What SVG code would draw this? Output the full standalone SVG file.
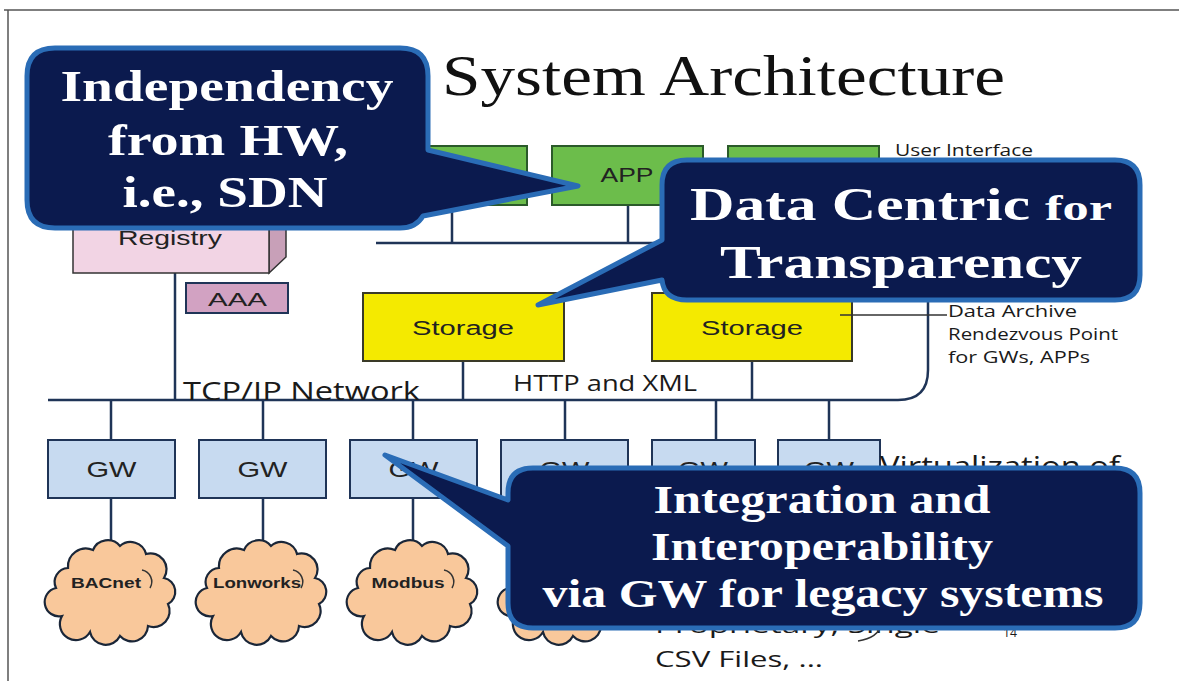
<svg xmlns="http://www.w3.org/2000/svg" width="1179" height="681" viewBox="0 0 1179 681">
<style>
.ln{stroke:#1f3457;stroke-width:2.5;fill:none}
.thin{stroke:#333;stroke-width:1.5;fill:none}
.app{fill:#6cbd4b;stroke:#2b5a2a;stroke-width:2}
.sto{fill:#f4ea00;stroke:#3a3a28;stroke-width:2}
.gw{fill:#c7daf0;stroke:#1f3457;stroke-width:2}
.cl{fill:#f9c89b;stroke:#1a2638;stroke-width:2.2}
.co{fill:#0b1a4e;stroke:#2a6cb6;stroke-width:5;stroke-linejoin:round}
.a{font-family:"Liberation Sans",Arial,sans-serif;fill:#222}
.c{font-family:"Open Sans","Liberation Sans",sans-serif;fill:#1a1a1a}
.cb{font-family:"Liberation Sans",Arial,sans-serif;font-weight:bold;font-size:15px;fill:#222;text-anchor:middle}
.w{font-family:"Liberation Serif","Times New Roman",serif;font-weight:bold;fill:#fff}
</style>
<defs>
<path id="cloud" d="M20,30 A18,18 0 0 1 45,12 A16,16 0 0 1 72,8 A16,16 0 0 1 98,16 A16,16 0 0 1 116,40 A14,14 0 0 1 120,66 A16,16 0 0 1 100,88 A16,16 0 0 1 72,98 A16,16 0 0 1 42,94 A16,16 0 0 1 14,78 A14,14 0 0 1 8,50 A14,14 0 0 1 20,30 Z"/>
</defs>
<rect width="1179" height="681" fill="#fff"/>
<path d="M4,10 H1179 M8,10 V681" stroke="#555" stroke-width="1.5" fill="none"/>
<text id="title" x="442" y="95" font-family="Liberation Serif,'Times New Roman',serif" font-size="56" fill="#111" textLength="563" lengthAdjust="spacingAndGlyphs">System Architecture</text>
<g id="connectors">
<path class="ln" d="M48,400 H898 Q928,400 928,370 V243 H376"/>
<path class="ln" d="M452,205 V243 M628,205 V243 M803,205 V243"/>
<path class="ln" d="M175,273 V400"/>
<path class="ln" d="M463,361 V400 M752,361 V400"/>
<path class="ln" d="M111,400 V440 M263,400 V440 M413,400 V440 M565,400 V440 M716,400 V440 M829,400 V440"/>
<path class="ln" d="M111,498 V546 M263,498 V546 M413,498 V546 M565,498 V546"/>
</g>
<g id="app1"><rect class="app" x="376" y="146" width="151" height="59"/></g>
<g id="app2"><rect class="app" x="552" y="146" width="151" height="59"/><text class="a" x="627" y="182" font-size="20" text-anchor="middle" textLength="53" lengthAdjust="spacingAndGlyphs" fill="#16301a">APP</text></g>
<g id="app3"><rect class="app" x="728" y="146" width="151" height="59"/></g>
<text class="c" x="895" y="156" font-size="16" textLength="138" lengthAdjust="spacingAndGlyphs">User Interface</text>
<g id="registry">
<polygon points="73,195 90,178 286,178 269,195" fill="#e6c0d4" stroke="#333" stroke-width="1.5"/>
<polygon points="269,195 286,178 286,257 269,273" fill="#c8a0b8" stroke="#333" stroke-width="1.5"/>
<rect x="73" y="195" width="196" height="78" fill="#f2d4e4" stroke="#333" stroke-width="1.5"/>
<text class="a" x="170" y="245" font-size="21" text-anchor="middle" textLength="104" lengthAdjust="spacingAndGlyphs" fill="#333">Registry</text>
</g>
<g id="aaa"><rect x="186" y="283" width="102" height="30" fill="#d2a2c2" stroke="#1f3457" stroke-width="2"/><text class="a" x="237.5" y="306" font-size="18" text-anchor="middle" textLength="59" lengthAdjust="spacingAndGlyphs">AAA</text></g>
<g id="storage1"><rect class="sto" x="363" y="293" width="201" height="68"/><text class="a" x="463" y="335" font-size="20" text-anchor="middle" textLength="102" lengthAdjust="spacingAndGlyphs">Storage</text></g>
<g id="storage2"><rect class="sto" x="652" y="293" width="200" height="68"/><text class="a" x="752" y="335" font-size="20" text-anchor="middle" textLength="102" lengthAdjust="spacingAndGlyphs">Storage</text></g>
<path class="thin" d="M840,315 H947"/>
<g id="archive-label" class="c" font-size="16">
<text x="948" y="317" textLength="129" lengthAdjust="spacingAndGlyphs">Data Archive</text>
<text x="948" y="340" textLength="170" lengthAdjust="spacingAndGlyphs">Rendezvous Point</text>
<text x="948" y="363" textLength="142" lengthAdjust="spacingAndGlyphs">for GWs, APPs</text>
</g>
<text class="c" x="513" y="391" font-size="21" textLength="184" lengthAdjust="spacingAndGlyphs">HTTP and XML</text>
<text class="c" x="183" y="400" font-size="25" textLength="237" lengthAdjust="spacingAndGlyphs">TCP/IP Network</text>
<g id="gw1"><rect class="gw" x="48" y="440" width="127" height="58"/><text class="a" x="111.5" y="477" font-size="22" text-anchor="middle" textLength="50" lengthAdjust="spacingAndGlyphs">GW</text></g>
<g id="gw2"><rect class="gw" x="199" y="440" width="127" height="58"/><text class="a" x="262.5" y="477" font-size="22" text-anchor="middle" textLength="50" lengthAdjust="spacingAndGlyphs">GW</text></g>
<g id="gw3"><rect class="gw" x="350" y="440" width="127" height="58"/><text class="a" x="413.5" y="477" font-size="22" text-anchor="middle" textLength="50" lengthAdjust="spacingAndGlyphs">GW</text></g>
<g id="gw4"><rect class="gw" x="501" y="440" width="127" height="58"/><text class="a" x="564.5" y="477" font-size="22" text-anchor="middle" textLength="50" lengthAdjust="spacingAndGlyphs">GW</text></g>
<g id="gw5"><rect class="gw" x="652" y="440" width="103" height="58"/><text class="a" x="703" y="477" font-size="22" text-anchor="middle" textLength="50" lengthAdjust="spacingAndGlyphs">GW</text></g>
<g id="gw6"><rect class="gw" x="778" y="440" width="102" height="58"/><text class="a" x="829" y="477" font-size="22" text-anchor="middle" textLength="50" lengthAdjust="spacingAndGlyphs">GW</text></g>
<text class="c" x="880" y="476" font-size="27" textLength="240" lengthAdjust="spacingAndGlyphs">Virtualization of</text>
<g id="cloud1"><use href="#cloud" class="cl" transform="translate(48,538)"/><path class="thin" d="M142,570 A12,12 0 0 1 150,588" stroke="#1a2638" stroke-width="2"/><text class="cb" x="106" y="588" textLength="70" lengthAdjust="spacingAndGlyphs">BACnet</text></g>
<g id="cloud2"><use href="#cloud" class="cl" transform="translate(199,538)"/><path class="thin" d="M293,570 A12,12 0 0 1 301,588" stroke="#1a2638" stroke-width="2"/><text class="cb" x="257" y="588" textLength="88" lengthAdjust="spacingAndGlyphs">Lonworks</text></g>
<g id="cloud3"><use href="#cloud" class="cl" transform="translate(350,538)"/><path class="thin" d="M444,570 A12,12 0 0 1 452,588" stroke="#1a2638" stroke-width="2"/><text class="cb" x="408" y="588" textLength="73" lengthAdjust="spacingAndGlyphs">Modbus</text></g>
<g id="cloud4"><use href="#cloud" class="cl" transform="translate(501,538)"/></g>
<text class="c" x="655" y="633" font-size="22" textLength="285" lengthAdjust="spacingAndGlyphs">Proprietary, Single</text>
<path class="thin" d="M882,624 Q878,638 858,641" stroke="#222" stroke-width="2"/>
<text class="c" x="1003" y="637" font-size="12" textLength="14" lengthAdjust="spacingAndGlyphs">14</text>
<text class="c" x="655" y="667" font-size="22" textLength="168" lengthAdjust="spacingAndGlyphs">CSV Files, ...</text>
<g id="callout-sdn">
<path class="co" d="M55,48 H400 Q428,48 428,76 V150 L578,186 L423,216 Q416,228 400,228 H55 Q27,228 27,200 V76 Q27,48 55,48 Z"/>
<text class="w" x="227" y="101" font-size="44" text-anchor="middle" textLength="333" lengthAdjust="spacingAndGlyphs">Independency</text>
<text class="w" x="228" y="155" font-size="44" text-anchor="middle" textLength="240" lengthAdjust="spacingAndGlyphs">from HW,</text>
<text class="w" x="225" y="207" font-size="44" text-anchor="middle" textLength="205" lengthAdjust="spacingAndGlyphs">i.e., SDN</text>
</g>
<g id="callout-data">
<path class="co" d="M687,160 H1115 Q1140,160 1140,185 V275 Q1140,300 1115,300 H687 Q664,300 662,280 L538,305 L662,240 V185 Q662,160 687,160 Z"/>
<text class="w" x="690" y="220" font-size="46" textLength="340" lengthAdjust="spacingAndGlyphs">Data Centric</text>
<text class="w" x="1045" y="220" font-size="36" textLength="67" lengthAdjust="spacingAndGlyphs">for</text>
<text class="w" x="720" y="278" font-size="46" textLength="362" lengthAdjust="spacingAndGlyphs">Transparency</text>
</g>
<g id="callout-gw">
<path class="co" d="M533,468 H1115 Q1140,468 1140,493 V603 Q1140,628 1115,628 H533 Q508,628 508,603 V546 L385,455 L508,500 V493 Q508,468 533,468 Z"/>
<text class="w" x="822" y="513" font-size="40" text-anchor="middle" textLength="337" lengthAdjust="spacingAndGlyphs">Integration and</text>
<text class="w" x="822" y="560" font-size="40" text-anchor="middle" textLength="342" lengthAdjust="spacingAndGlyphs">Interoperability</text>
<text class="w" x="823" y="607" font-size="40" text-anchor="middle" textLength="561" lengthAdjust="spacingAndGlyphs">via GW for legacy systems</text>
</g>
</svg>
